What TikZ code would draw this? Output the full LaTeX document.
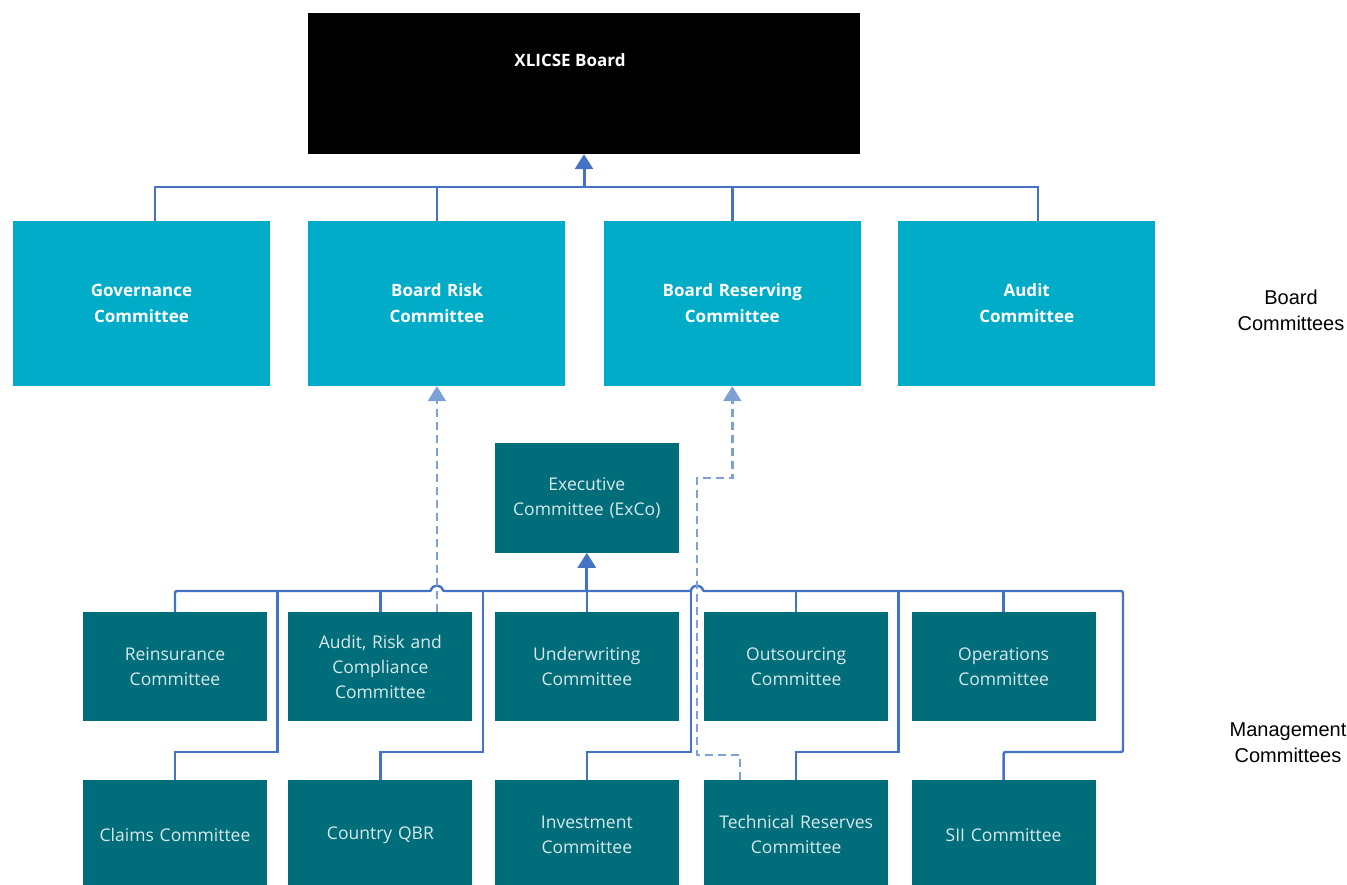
\documentclass[tikz,border=0pt]{standalone}
\usepackage{fontspec}
\usepackage{xcolor}
\usepackage{tikz}
\usetikzlibrary{arrows.meta, positioning, calc}
\newfontfamily\boxfont{Open Sans}
\newfontfamily\sidefont{Liberation Sans}
\definecolor{boardcyan}{RGB}{0,172,200}
\definecolor{mgmtteal}{RGB}{0,110,122}
\definecolor{linkblue}{RGB}{68,114,196}
\definecolor{dashblue}{RGB}{125,160,215}
\tikzstyle{board} = [rectangle, fill=black, minimum width=552pt, minimum height=141pt]
\tikzstyle{boardtext} = [text=white, font=\boxfont\bfseries\fontsize{17}{20}\selectfont]
\tikzstyle{bcomm} = [rectangle, fill=boardcyan, minimum width=257pt, minimum height=165pt, text width=240pt, align=center, text=white, font=\boxfont\bfseries\fontsize{17}{26}\selectfont]
\tikzstyle{mcomm} = [rectangle, fill=mgmtteal, minimum width=184pt, minimum height=109pt, text width=172pt, align=center, text=white!85!mgmtteal, font=\boxfont\fontsize{17.5}{25}\selectfont]
\tikzstyle{conn} = [draw=linkblue, line width=2.4pt]
\tikzstyle{arrow} = [conn, line width=3pt, -{Triangle[width=18pt,length=15pt]}]
\tikzstyle{dashconn} = [draw=dashblue, line width=2.4pt, dash pattern=on 8pt off 5pt, -{Triangle[width=18pt,length=15pt]}]
\tikzstyle{sidelabel} = [font=\sidefont\fontsize{20}{26}\selectfont, align=center]

\begin{document}
\begin{tikzpicture}[x=1pt, y=1pt]
        \useasboundingbox (0,0) rectangle (1347,-885);

        % Board
        \node (board) [board, label={[boardtext, anchor=north, yshift=-37pt, xshift=-14pt]north:XLICSE Board}] at (584,-83.5) {};

        % Board committees
        \node (gov) [bcomm] at (141.5,-303.5) {Governance\\Committee};
        \node (risk) [bcomm, right=38pt of gov] {Board Risk\\Committee};
        \node (reserve) [bcomm, right=38pt of risk] {Board Reserving\\Committee};
        \node (audit) [bcomm, right=37pt of reserve] {Audit\\Committee};

        % Management committees - first row
        \node (rein) [mcomm] at (175,-666.5) {Reinsurance\\Committee};
        \node (audrisk) [mcomm, right=21pt of rein] {Audit, Risk and\\Compliance\\Committee};
        \node (uw) [mcomm, right=22pt of audrisk] {Underwriting\\Committee};
        \node (outs) [mcomm, right=25pt of uw] {Outsourcing\\Committee};
        \node (ops) [mcomm, right=23pt of outs] {Operations\\Committee};

        % Management committees - second row
        \node (claims) [mcomm, below=59pt of rein] {Claims Committee};
        \node (qbr) [mcomm, below=59pt of audrisk] {Country QBR};
        \node (inv) [mcomm, below=59pt of uw] {Investment\\Committee};
        \node (tech) [mcomm, below=59pt of outs] {Technical Reserves\\Committee};
        \node (sii) [mcomm, below=59pt of ops] {SII Committee};

        % Executive committee
        \node (exco) [mcomm, minimum height=110pt, above=59pt of uw] {Executive\\Committee (ExCo)};

        % Side labels
        \node (bclabel) [sidelabel] at (1291,-310) {Board\\Committees};
        \node (mclabel) [sidelabel] at (1288,-743) {Management\\Committees};

        % Bus coordinates
        \coordinate (bbus) at (584,-187);
        \coordinate (mbus) at (uw.north |- 0,-591);
        \coordinate (mend) at (1123,-752);
        \coordinate (d1) at (277.5,-752);
        \coordinate (d2) at (483,-752);
        \coordinate (d3) at (691,-752);
        \coordinate (d4) at (898.5,-752);
        \coordinate (j1) at (697,-755);
        \coordinate (j2) at (697,-478);

        % Board committees to board
        \draw [conn] ([xshift=13.5pt]gov.north) |- (bbus) -| ([xshift=11.5pt]audit.north);
        \draw [conn] (risk.north) -- (risk.north |- bbus);
        \draw [conn] (reserve.north) -- (reserve.north |- bbus);
        \draw [arrow] (bbus) -- (board.south);

        % Management bus with hops over the dashed lines
        \draw [conn, rounded corners=2pt] (rein.north) -- (rein.north |- mbus)
            -- ($(risk.south |- mbus)+(-5.5,0)$) arc[start angle=180, end angle=0, radius=5.5]
            -- ($(j1 |- mbus)+(-5.5,0)$) arc[start angle=180, end angle=0, radius=5.5]
            -- (mend |- mbus) -- (mend) -| (sii.north);
        \draw [conn] (audrisk.north) -- (audrisk.north |- mbus);
        \draw [conn] (outs.north) -- (outs.north |- mbus);
        \draw [conn] (ops.north) -- (ops.north |- mbus);
        \draw [conn] (uw.north) -- (mbus);
        \draw [arrow] (mbus) -- (exco.south);

        % Second row drops
        \draw [conn] (claims.north) |- (d1) -- (d1 |- mbus);
        \draw [conn] (qbr.north) |- (d2) -- (d2 |- mbus);
        \draw [conn] (inv.north) |- (d3) -- (d3 |- mbus);
        \draw [conn] (tech.north) |- (d4) -- (d4 |- mbus);

        % Dashed reporting lines
        \draw [dashconn] (risk.south |- audrisk.north) -- (risk.south);
        \draw [dashconn] ([xshift=-56pt]tech.north) |- (j1) -- (j2) -| (reserve.south);

    \end{tikzpicture}
\end{document}
